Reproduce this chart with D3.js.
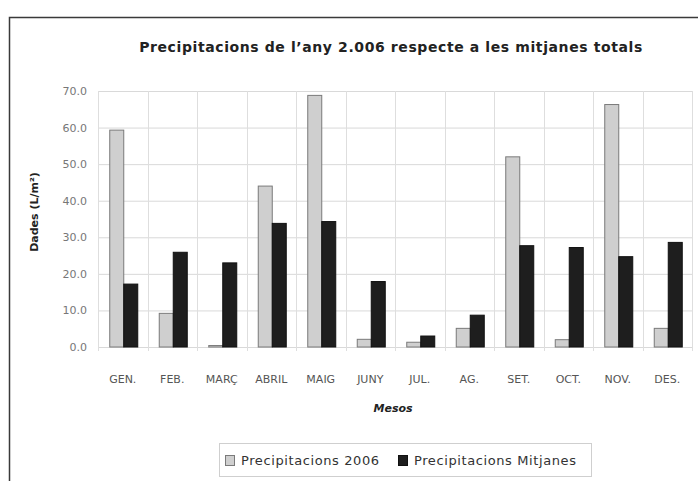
<!DOCTYPE html>
<html>
<head>
<meta charset="utf-8">
<script src="https://cdn.jsdelivr.net/npm/d3@7/dist/d3.min.js"></script>
<style>
  html, body { margin: 0; padding: 0; background: #fff; }
  svg { display: block; }
  text { font-family: "DejaVu Sans", sans-serif; }
</style>
</head>
<body>
<svg id="chart" width="698" height="481"></svg>
<script>
const months = ["GEN.", "FEB.", "MARÇ", "ABRIL", "MAIG", "JUNY", "JUL.", "AG.", "SET.", "OCT.", "NOV.", "DES."];
const prec2006 = [59.3, 9.2, 0.4, 44.0, 68.8, 2.1, 1.3, 5.1, 52.0, 2.0, 66.3, 5.1];
const precMitjanes = [17.2, 25.9, 23.0, 33.8, 34.3, 17.9, 3.0, 8.7, 27.7, 27.2, 24.7, 28.6];
const yTicks = [0, 10, 20, 30, 40, 50, 60, 70];
const seriesNames = ["Precipitacions 2006", "Precipitacions Mitjanes"];

const svg = d3.select("#chart");

// outer frame (left and top edges visible)
svg.append("path")
  .attr("d", "M9.5,481 L9.5,17.5 L698,17.5")
  .attr("fill", "none").attr("stroke", "#3a3a3a").attr("stroke-width", 1.5);

const plot = { left: 98, right: 692, top: 91, bottom: 347 };

const x = d3.scaleBand().domain(months).range([plot.left, plot.right]).paddingInner(0).paddingOuter(0);
const y = d3.scaleLinear().domain([0, 70]).range([plot.bottom, plot.top]);
const inner = d3.scaleBand().domain([0, 1]).range([0, 28]);

// horizontal grid
svg.append("g").selectAll("line").data(yTicks).join("line")
  .attr("x1", plot.left).attr("x2", plot.right)
  .attr("y1", d => y(d) + 0.5).attr("y2", d => y(d) + 0.5)
  .attr("stroke", "#d9d9d9").attr("stroke-width", 1);

// vertical grid
const bounds = months.map(m => x(m)).concat([plot.right]);
svg.append("g").selectAll("line").data(bounds).join("line")
  .attr("x1", d => Math.round(d) + 0.5).attr("x2", d => Math.round(d) + 0.5)
  .attr("y1", plot.top).attr("y2", plot.bottom + 4)
  .attr("stroke", "#dedede").attr("stroke-width", 1);

// y axis labels
const yAxis = d3.axisLeft(y).tickValues(yTicks).tickFormat(d3.format(".1f")).tickSize(0).tickPadding(11);
const gy = svg.append("g").attr("transform", `translate(${plot.left},0)`).call(yAxis);
gy.select(".domain").remove();
gy.selectAll("text").attr("font-size", 11).attr("fill", "#777").attr("font-family", "DejaVu Sans Condensed, DejaVu Sans, sans-serif");

// x axis labels
const xAxis = d3.axisBottom(x).tickSize(0).tickPadding(28);
const gx = svg.append("g").attr("transform", `translate(0,${plot.bottom})`).call(xAxis);
gx.select(".domain").remove();
gx.selectAll("text").attr("font-size", 11).attr("fill", "#555").attr("font-family", "DejaVu Sans Condensed, DejaVu Sans, sans-serif");

// bars
const groups = svg.append("g").selectAll("g").data(months).join("g")
  .attr("transform", m => `translate(${x(m) + x.bandwidth() / 2 - 13},0)`);

groups.append("rect")
  .attr("x", 0).attr("width", inner.bandwidth())
  .attr("y", (m, i) => y(prec2006[i]))
  .attr("height", (m, i) => y(0) - y(prec2006[i]))
  .attr("fill", "#cfcfcf").attr("stroke", "#7a7a7a").attr("stroke-width", 1);

groups.append("rect")
  .attr("x", inner(1)).attr("width", inner.bandwidth())
  .attr("y", (m, i) => y(precMitjanes[i]))
  .attr("height", (m, i) => y(0) - y(precMitjanes[i]))
  .attr("fill", "#1e1e1e").attr("stroke", "#111").attr("stroke-width", 1);

// title
svg.append("text")
  .attr("x", 391).attr("y", 52).attr("text-anchor", "middle")
  .attr("font-size", 14).attr("font-weight", "bold").attr("fill", "#222")
  .attr("letter-spacing", 0.6)
  .text("Precipitacions de l’any 2.006 respecte a les mitjanes totals");

// y axis title
svg.append("text")
  .attr("transform", "translate(38,212) rotate(-90)")
  .attr("text-anchor", "middle")
  .attr("font-size", 11).attr("font-weight", "bold").attr("fill", "#222")
  .text("Dades (L/m²)");

// x axis title
svg.append("text")
  .attr("x", 393).attr("y", 412).attr("text-anchor", "middle")
  .attr("font-size", 11).attr("font-weight", "bold").attr("font-style", "italic").attr("fill", "#222")
  .text("Mesos");

// legend
const lg = svg.append("g");
lg.append("rect").attr("x", 219.5).attr("y", 443.5).attr("width", 372).attr("height", 33)
  .attr("fill", "#fff").attr("stroke", "#cfcfcf");
const legendItems = [
  { name: seriesNames[0], fill: "#cfcfcf", stroke: "#7a7a7a", x: 225 },
  { name: seriesNames[1], fill: "#1e1e1e", stroke: "#111", x: 398 }
];
const li = lg.selectAll("g").data(legendItems).join("g")
  .attr("transform", d => `translate(${d.x},0)`);
li.append("rect").attr("x", 0.5).attr("y", 455.5).attr("width", 9).attr("height", 10)
  .attr("fill", d => d.fill).attr("stroke", d => d.stroke);
li.append("text").attr("x", 16).attr("y", 465)
  .attr("font-size", 13).attr("fill", "#333").attr("letter-spacing", 0.6)
  .text(d => d.name);
</script>
</body>
</html>
